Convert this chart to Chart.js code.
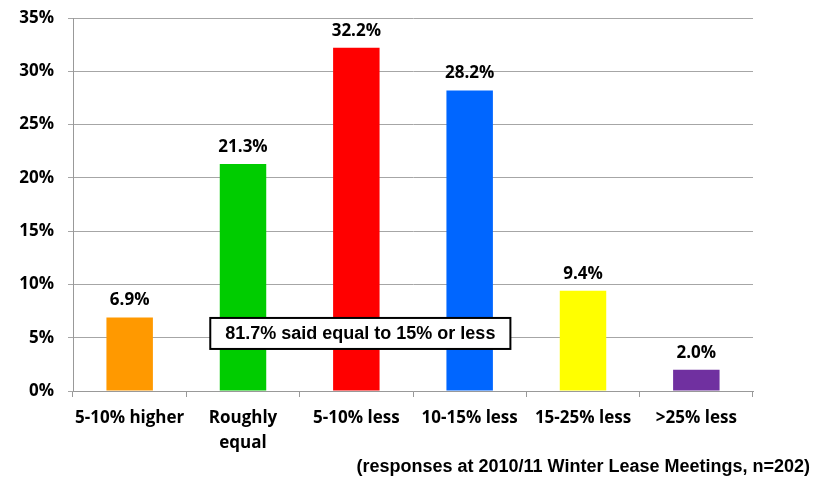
<!DOCTYPE html>
<html>
<head>
<meta charset="utf-8">
<script src="https://cdn.jsdelivr.net/npm/chart.js@4"></script>
<style>
  html, body { margin: 0; padding: 0; background: #ffffff; }
  #wrap { width: 815px; height: 479px; position: relative; }
</style>
</head>
<body>
<div id="wrap"><canvas id="chart" width="815" height="479"></canvas></div>
<script>
  const categories = ['5-10% higher', ['Roughly', 'equal'], '5-10% less', '10-15% less', '15-25% less', '>25% less'];
  const shares = [6.9, 21.3, 32.2, 28.2, 9.4, 2.0];
  const barColors = ['#FF9900', '#00CC00', '#FF0000', '#0066FF', '#FFFF00', '#7030A0'];
  const yTicks = [0, 5, 10, 15, 20, 25, 30, 35];
  const calloutText = '81.7% said equal to 15% or less';
  const footnote = '(responses at 2010/11 Winter Lease Meetings, n=202)';

  const labelFont = 'bold 17px "Open Sans", Lato, sans-serif';

  // value labels, callout box and footnote
  const extras = {
    id: 'extras',
    afterDatasetsDraw(chart) {
      const ctx = chart.ctx;
      const meta = chart.getDatasetMeta(0);
      const x = chart.scales.x;
      const y = chart.scales.y;
      ctx.save();
      ctx.fillStyle = '#000';
      ctx.font = labelFont;
      ctx.textAlign = 'center';
      ctx.textBaseline = 'middle';
      meta.data.forEach((bar, i) => {
        ctx.fillText(shares[i].toFixed(1) + '%', bar.x, bar.y - 17);
      });

      // callout
      ctx.font = 'bold 18px "Liberation Sans", Arial, sans-serif';
      const w = ctx.measureText(calloutText).width + 30;
      const h = 31;
      const cx = x.getPixelForValue(2) + 4;
      const cy = y.getPixelForValue(5.4);
      ctx.fillStyle = '#fff';
      ctx.fillRect(cx - w / 2, cy - h / 2, w, h);
      ctx.lineWidth = 2;
      ctx.strokeStyle = '#000';
      ctx.strokeRect(cx - w / 2, cy - h / 2, w, h);
      ctx.fillStyle = '#000';
      ctx.fillText(calloutText, cx, cy + 1);

      // footnote
      ctx.font = 'bold 18px "Liberation Sans", Arial, sans-serif';
      ctx.textAlign = 'right';
      ctx.fillText(footnote, 810, 467);
      ctx.restore();
    }
  };

  new Chart(document.getElementById('chart'), {
    type: 'bar',
    data: {
      labels: categories,
      datasets: [{
        data: shares,
        backgroundColor: barColors,
        borderWidth: 0,
        categoryPercentage: 1,
        barPercentage: 0.41
      }]
    },
    options: {
      responsive: false,
      animation: false,
      layout: { padding: { left: 0, right: 62, top: 18, bottom: 0 } },
      plugins: { legend: { display: false }, tooltip: { enabled: false } },
      scales: {
        x: {
          afterFit: (axis) => { axis.height = 88; axis.paddingLeft = 0; axis.paddingRight = 0; },
          grid: { display: true, drawOnChartArea: false, color: '#999', tickLength: 6, offset: true },
          border: { color: '#999', width: 1 },
          ticks: {
            color: '#000',
            font: { family: '"Open Sans", Lato, sans-serif', size: 17, weight: 'bold', lineHeight: 1.45 },
            maxRotation: 0,
            autoSkip: false,
            padding: 9
          }
        },
        y: {
          min: 0,
          max: 35,
          afterBuildTicks: (axis) => { axis.ticks = yTicks.map(v => ({ value: v })); },
          afterFit: (axis) => { axis.width = 73; axis.paddingTop = 0; axis.paddingBottom = 0; },
          grid: { color: '#a6a6a6', tickLength: 5 },
          border: { color: '#999', width: 1 },
          ticks: {
            color: '#000',
            font: { family: '"Open Sans", Lato, sans-serif', size: 17, weight: 'bold' },
            padding: 14,
            callback: (v) => v + '%'
          }
        }
      }
    },
    plugins: [extras]
  });
</script>
</body>
</html>
